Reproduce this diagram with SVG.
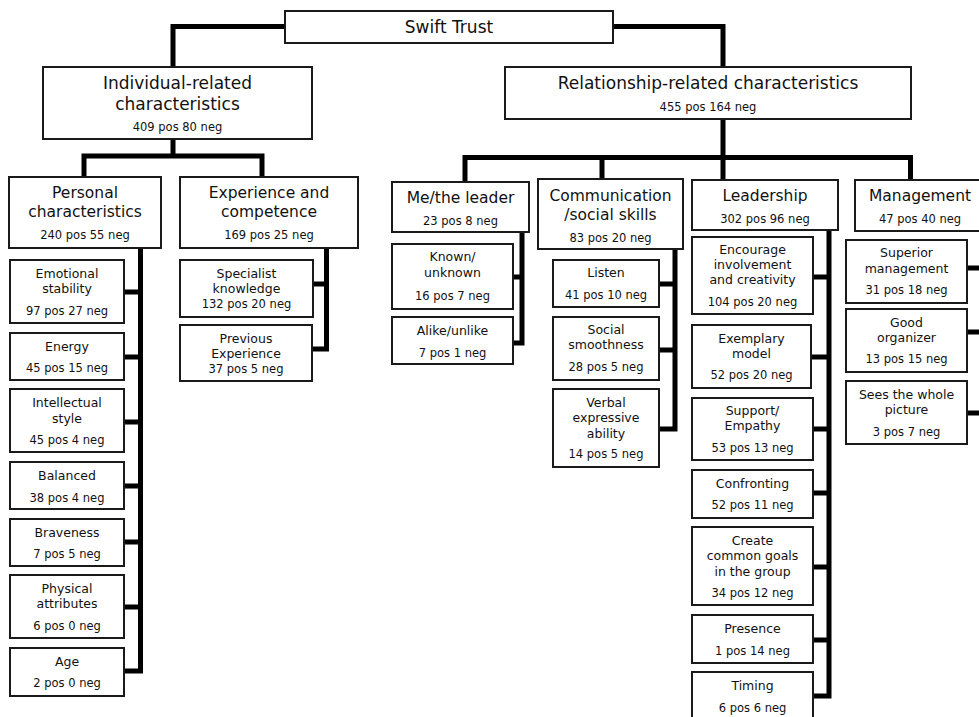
<svg xmlns="http://www.w3.org/2000/svg" width="979" height="717" viewBox="0 0 979 717">
<style>
.b{fill:#fff;stroke:#1a1a1a;stroke-width:2}
.c{fill:none;stroke:#000;stroke-width:5;stroke-linejoin:miter}
text{font-family:"DejaVu Sans",Verdana,sans-serif;fill:#111;text-anchor:middle}
.h1{font-size:17px}
.h2{font-size:15.5px}
.l{font-size:12.5px}
.n{font-size:11.5px}
</style>
<rect width="979" height="717" fill="#fff"/>
<g id="connectors">
<path class="c" d="M285 26.5 H173 V67"/>
<path class="c" d="M613 26.5 H723 V67"/>
<path class="c" d="M173 139 V156 M84 177 V156 H262 V177"/>
<path class="c" d="M723 119 V157.5 M465 182 V157.5 H910.5 V180 M602 157.5 V179 M723 157.5 V180"/>
<path class="c" d="M140.5 248 V671 H124 M124 292 H140.5 M124 357 H140.5 M124 422 H140.5 M124 486 H140.5 M124 542 H140.5 M124 607 H140.5"/>
<path class="c" d="M326.5 248 V349 H312 M313 284 H326.5"/>
<path class="c" d="M522 232 V343 H513 M513 277 H522"/>
<path class="c" d="M675 249 V429 H659 M659 284 H675 M659 350 H675"/>
<path class="c" d="M829 230 V696 H813 M813 277 H829 M811 357 H829 M813 429 H829 M813 493 H829 M813 567 H829 M813 640 H829"/>
<path class="c" d="M967 268 H990 M967 332 H990 M967 413 H990"/>
</g>
<g id="swift-trust"><rect class="b" x="285" y="11" width="328" height="32"/><text class="h1" x="449" y="33">Swift Trust</text></g>
<g id="individual"><rect class="b" x="43" y="67" width="269" height="72"/><text class="h1" x="177.5" y="89">Individual-related</text><text class="h1" x="177.5" y="110">characteristics</text><text class="n" x="177.5" y="131">409 pos 80 neg</text></g>
<g id="relationship"><rect class="b" x="505" y="67" width="406" height="52"/><text class="h1" x="708" y="89">Relationship-related characteristics</text><text class="n" x="708" y="111">455 pos 164 neg</text></g>
<g id="personal"><rect class="b" x="9" y="177" width="152" height="71"/><text class="h2" x="85" y="198">Personal</text><text class="h2" x="85" y="217">characteristics</text><text class="n" x="85" y="239">240 pos 55 neg</text></g>
<g id="experience"><rect class="b" x="180" y="177" width="178" height="71"/><text class="h2" x="269" y="198">Experience and</text><text class="h2" x="269" y="217">competence</text><text class="n" x="269" y="239">169 pos 25 neg</text></g>
<g id="me-leader"><rect class="b" x="392" y="182" width="137" height="50"/><text class="h2" x="460.5" y="203">Me/the leader</text><text class="n" x="460.5" y="225">23 pos 8 neg</text></g>
<g id="communication"><rect class="b" x="538" y="179" width="145" height="70"/><text class="h2" x="610.5" y="201">Communication</text><text class="h2" x="610.5" y="220">/social skills</text><text class="n" x="610.5" y="242">83 pos 20 neg</text></g>
<g id="leadership"><rect class="b" x="692" y="180" width="146" height="50"/><text class="h2" x="765" y="201">Leadership</text><text class="n" x="765" y="223">302 pos 96 neg</text></g>
<g id="management"><rect class="b" x="855" y="180" width="135" height="51"/><text class="h2" x="920" y="201">Management</text><text class="n" x="920" y="223">47 pos 40 neg</text></g>
<g id="emotional"><rect class="b" x="10" y="260" width="114" height="63"/><text class="l" x="67" y="278">Emotional</text><text class="l" x="67" y="293">stability</text><text class="n" x="67" y="315">97 pos 27 neg</text></g>
<g id="energy"><rect class="b" x="10" y="333" width="114" height="47"/><text class="l" x="67" y="351">Energy</text><text class="n" x="67" y="372">45 pos 15 neg</text></g>
<g id="intellectual"><rect class="b" x="10" y="389" width="114" height="63"/><text class="l" x="67" y="407">Intellectual</text><text class="l" x="67" y="423">style</text><text class="n" x="67" y="444">45 pos 4 neg</text></g>
<g id="balanced"><rect class="b" x="10" y="462" width="114" height="47"/><text class="l" x="67" y="480">Balanced</text><text class="n" x="67" y="502">38 pos 4 neg</text></g>
<g id="braveness"><rect class="b" x="10" y="519" width="114" height="47"/><text class="l" x="67" y="537">Braveness</text><text class="n" x="67" y="558">7 pos 5 neg</text></g>
<g id="physical"><rect class="b" x="10" y="575" width="114" height="63"/><text class="l" x="67" y="593">Physical</text><text class="l" x="67" y="608">attributes</text><text class="n" x="67" y="630">6 pos 0 neg</text></g>
<g id="age"><rect class="b" x="10" y="648" width="114" height="48"/><text class="l" x="67" y="666">Age</text><text class="n" x="67" y="687">2 pos 0 neg</text></g>
<g id="specialist"><rect class="b" x="180" y="260" width="133" height="57"/><text class="l" x="246.5" y="278">Specialist</text><text class="l" x="246.5" y="293">knowledge</text><text class="n" x="246.5" y="308">132 pos 20 neg</text></g>
<g id="previous"><rect class="b" x="180" y="325" width="132" height="56"/><text class="l" x="246" y="343">Previous</text><text class="l" x="246" y="358">Experience</text><text class="n" x="246" y="373">37 pos 5 neg</text></g>
<g id="known"><rect class="b" x="392" y="244" width="121" height="65"/><text class="l" x="452.5" y="261">Known/</text><text class="l" x="452.5" y="277">unknown</text><text class="n" x="452.5" y="300">16 pos 7 neg</text></g>
<g id="alike"><rect class="b" x="392" y="317" width="121" height="47"/><text class="l" x="452.5" y="335">Alike/unlike</text><text class="n" x="452.5" y="357">7 pos 1 neg</text></g>
<g id="listen"><rect class="b" x="553" y="260" width="106" height="47"/><text class="l" x="606" y="277">Listen</text><text class="n" x="606" y="299">41 pos 10 neg</text></g>
<g id="social"><rect class="b" x="553" y="317" width="106" height="63"/><text class="l" x="606" y="334">Social</text><text class="l" x="606" y="349">smoothness</text><text class="n" x="606" y="371">28 pos 5 neg</text></g>
<g id="verbal"><rect class="b" x="553" y="389" width="106" height="78"/><text class="l" x="606" y="407">Verbal</text><text class="l" x="606" y="422">expressive</text><text class="l" x="606" y="438">ability</text><text class="n" x="606" y="458">14 pos 5 neg</text></g>
<g id="encourage"><rect class="b" x="692" y="237" width="121" height="77"/><text class="l" x="752.5" y="254">Encourage</text><text class="l" x="752.5" y="269">involvement</text><text class="l" x="752.5" y="284">and creativity</text><text class="n" x="752.5" y="306">104 pos 20 neg</text></g>
<g id="exemplary"><rect class="b" x="692" y="325" width="119" height="63"/><text class="l" x="751.5" y="343">Exemplary</text><text class="l" x="751.5" y="358">model</text><text class="n" x="751.5" y="379">52 pos 20 neg</text></g>
<g id="support"><rect class="b" x="692" y="398" width="121" height="62"/><text class="l" x="752.5" y="415">Support/</text><text class="l" x="752.5" y="430">Empathy</text><text class="n" x="752.5" y="452">53 pos 13 neg</text></g>
<g id="confronting"><rect class="b" x="692" y="470" width="121" height="48"/><text class="l" x="752.5" y="488">Confronting</text><text class="n" x="752.5" y="509">52 pos 11 neg</text></g>
<g id="create"><rect class="b" x="692" y="527" width="121" height="78"/><text class="l" x="752.5" y="545">Create</text><text class="l" x="752.5" y="560">common goals</text><text class="l" x="752.5" y="576">in the group</text><text class="n" x="752.5" y="597">34 pos 12 neg</text></g>
<g id="presence"><rect class="b" x="692" y="615" width="121" height="48"/><text class="l" x="752.5" y="633">Presence</text><text class="n" x="752.5" y="655">1 pos 14 neg</text></g>
<g id="timing"><rect class="b" x="692" y="672" width="121" height="60"/><text class="l" x="752.5" y="690">Timing</text><text class="n" x="752.5" y="712">6 pos 6 neg</text></g>
<g id="superior"><rect class="b" x="846" y="240" width="121" height="63"/><text class="l" x="906.5" y="257">Superior</text><text class="l" x="906.5" y="273">management</text><text class="n" x="906.5" y="294">31 pos 18 neg</text></g>
<g id="organizer"><rect class="b" x="846" y="309" width="121" height="63"/><text class="l" x="906.5" y="327">Good</text><text class="l" x="906.5" y="342">organizer</text><text class="n" x="906.5" y="363">13 pos 15 neg</text></g>
<g id="whole-picture"><rect class="b" x="846" y="381" width="121" height="63"/><text class="l" x="906.5" y="399">Sees the whole</text><text class="l" x="906.5" y="414">picture</text><text class="n" x="906.5" y="436">3 pos 7 neg</text></g>
</svg>
